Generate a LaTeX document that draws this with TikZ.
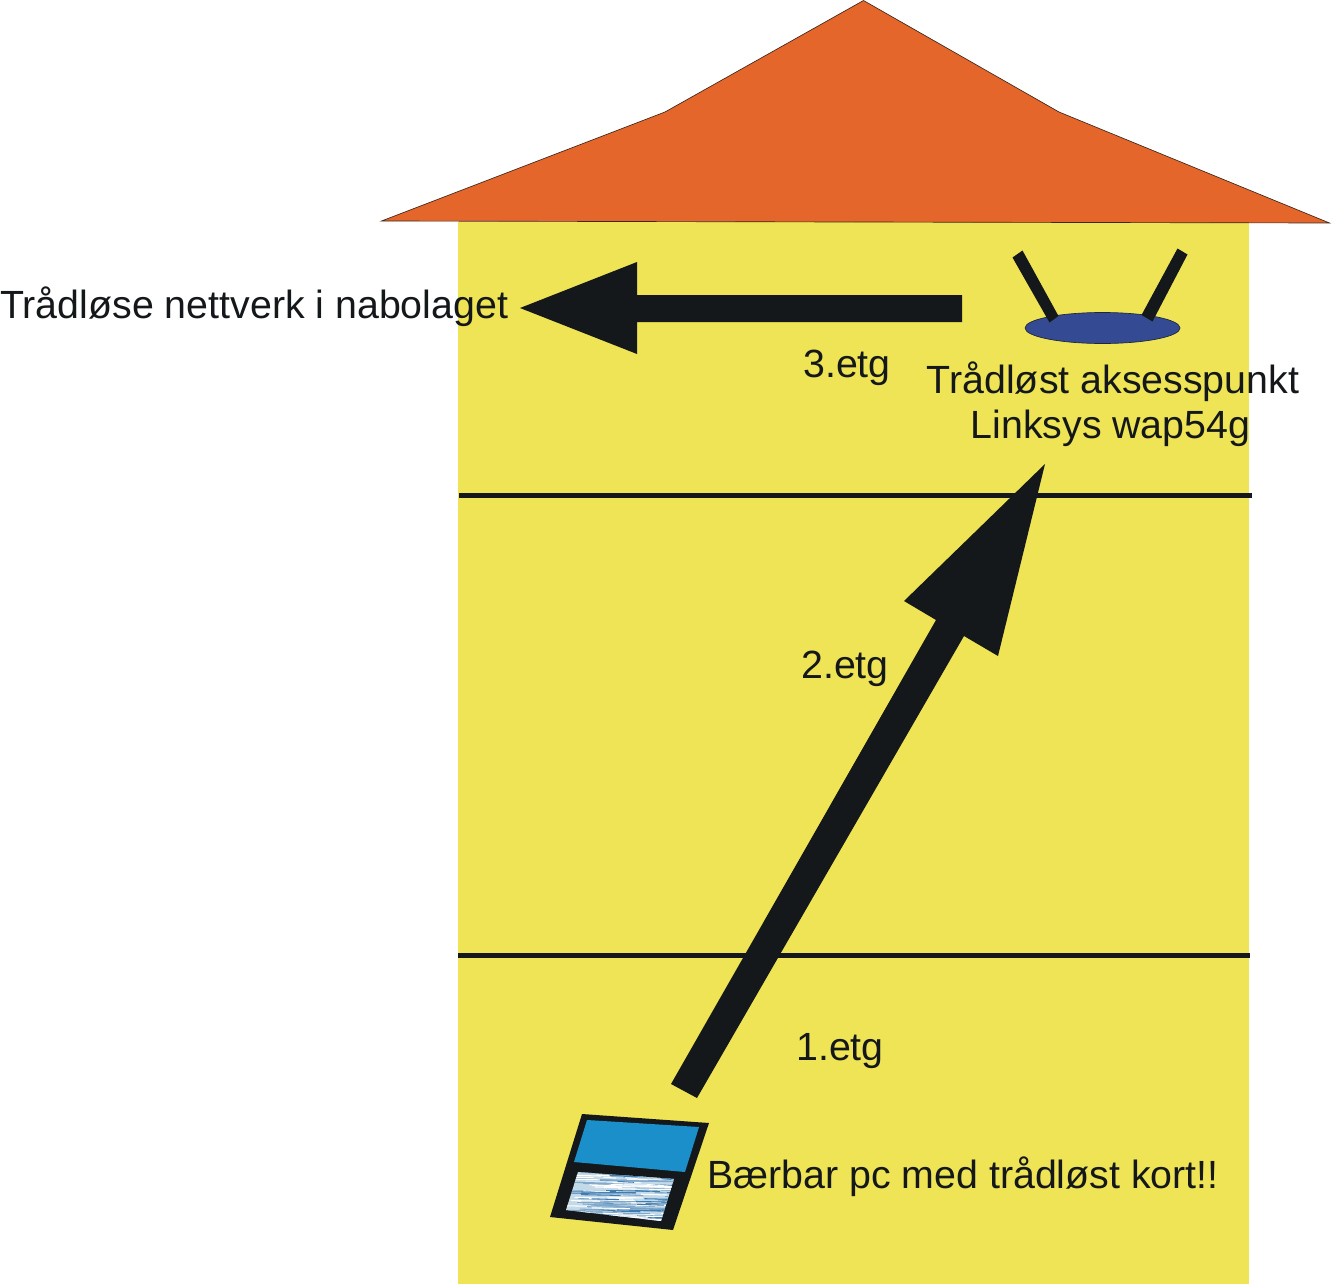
\documentclass[tikz,border=0pt]{standalone}
\usepackage{fontspec}
\setmainfont{Liberation Sans}
\definecolor{wall}{HTML}{EEE455}
\definecolor{roof}{HTML}{E5662B}
\definecolor{ink}{HTML}{15181A}
\definecolor{screenblue}{HTML}{1A8FC9}
\definecolor{apblue}{HTML}{344A92}
\definecolor{padlight}{HTML}{C5DAE8}
\definecolor{padmid}{HTML}{7FA8CC}
\definecolor{paddark}{HTML}{3F7CB0}
\tikzset{
  label text/.style={font=\fontsize{29.5pt}{35pt}\selectfont,text=ink,inner sep=0pt,align=center},
  floor line/.style={draw=ink,line width=3.3pt},
  ink fill/.style={fill=ink,draw=none}
}
\begin{document}
\begin{tikzpicture}[x=0.75pt,y=-0.75pt]
\useasboundingbox (0,0) rectangle (1332,1285);
\fill[white] (0,0) rectangle (1332,1285);
% house
\fill[wall] (458,222) rectangle (1249,1284);
\draw[fill=roof,draw=ink!80!roof,line width=0.5pt] (381.5,221) -- (665,112) -- (863.5,0.5) -- (1059,112) -- (1329.5,223) -- cycle;
% floors
\coordinate (f2a) at (459,495.5); \coordinate (f2b) at (1252,495.5);
\coordinate (f1a) at (458,955.5); \coordinate (f1b) at (1250,955.5);
\draw[floor line] (f2a) -- (f2b);
\draw[floor line] (f1a) -- (f1b);
% arrows
\fill[ink fill] (671,1084) -- (697,1098) -- (964,636) -- (998,656) -- (1045,464) -- (904,601) -- (936,620) -- cycle;
\fill[ink fill] (962,295) -- (637,295) -- (637,262) -- (520,308) -- (637,354) -- (637,322) -- (962,322) -- cycle;
% access point
\draw[fill=apblue,draw=ink!70!apblue,line width=0.5pt] (1102.5,328) ellipse [x radius=77.5,y radius=15.5];
\fill[ink fill] (1012.5,257.5) -- (1022.5,250.5) -- (1058.5,316) -- (1049.5,322.5) -- cycle;
\fill[ink fill] (1177.5,248.5) -- (1187.5,254.5) -- (1152.5,321.5) -- (1141.5,315) -- cycle;
% laptop
\fill[ink fill] (582,1114) -- (709,1123) -- (673,1230) -- (550,1217) -- cycle;
\fill[screenblue] (587,1120) -- (699,1127) -- (685,1172) -- (574,1162) -- cycle;
\begin{scope}
\clip (578,1172) -- (674,1179) -- (661,1221) -- (566,1210) -- cycle;
\fill[padlight] (560,1165) rectangle (680,1225);
\pgfmathsetseed{54}
\foreach \i in {1,...,170}{
  \pgfmathsetmacro{\yy}{1170+rnd*54}
  \pgfmathsetmacro{\xa}{555+rnd*115}
  \pgfmathsetmacro{\ww}{10+rnd*50}
  \pgfmathsetmacro{\kind}{rnd}
  \pgfmathsetmacro{\cname}{\kind<0.3?"1":(\kind<0.6?"2":"3")}
  \ifnum\cname=1 \def\cc{paddark}\fi
  \ifnum\cname=2 \def\cc{padmid}\fi
  \ifnum\cname=3 \def\cc{white}\fi
  \draw[\cc,line width=0.8pt] (\xa,\yy) -- ++(\ww,0.8);
}
\end{scope}
% texts
\node[label text,anchor=west] (neighbours) at (0,306.5) {Trådløse nettverk i nabolaget};
\node[label text] (f3) at (847,367.5) {3.etg};
\node[label text] (ap) at (1113,404) {Trådløst aksesspunkt\\[-1.5pt]Linksys wap54g\hbox to 3.8pt{}};
\node[label text] (f2) at (845,668.5) {2.etg};
\node[label text] (f1) at (840,1051.5) {1.etg};
\node[label text,anchor=west] (pc) at (707,1176.5) {Bærbar pc med trådløst kort!!};
\end{tikzpicture}
\end{document}
